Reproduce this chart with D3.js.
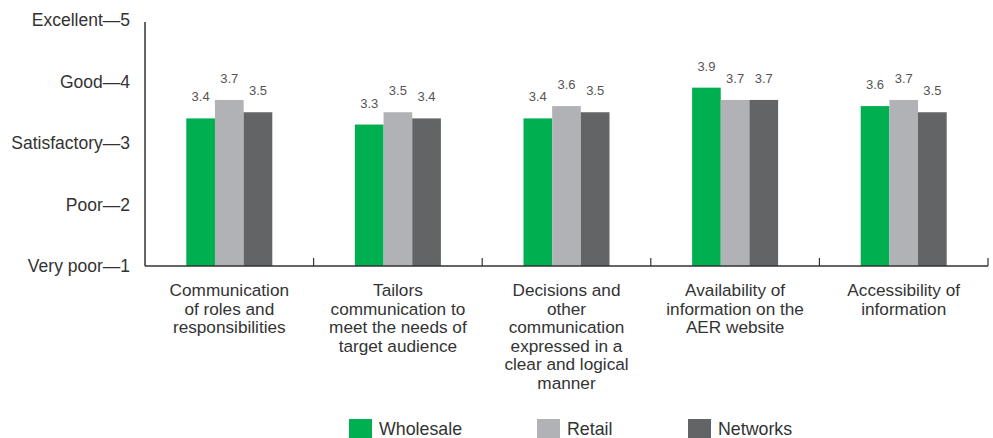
<!DOCTYPE html>
<html>
<head>
<meta charset="utf-8">
<script src="https://cdn.jsdelivr.net/npm/d3@7"></script>
<style>
  html, body { margin: 0; padding: 0; background: #fff; }
  svg { display: block; font-family: "Liberation Sans", Arial, sans-serif; }
</style>
</head>
<body>
<svg id="chart" width="993" height="438"></svg>
<script>
// Survey categories (each entry is a list of wrapped label lines)
const categories = [
  ["Communication", "of roles and", "responsibilities"],
  ["Tailors", "communication to", "meet the needs of", "target audience"],
  ["Decisions and", "other", "communication", "expressed in a", "clear and logical", "manner"],
  ["Availability of", "information on the", "AER website"],
  ["Accessibility of", "information"]
];
const seriesNames = ["Wholesale", "Retail", "Networks"];
const wholesale = [3.4, 3.3, 3.4, 3.9, 3.6];
const retail    = [3.7, 3.5, 3.6, 3.7, 3.7];
const networks  = [3.5, 3.4, 3.5, 3.7, 3.5];
const ratingTicks = [1, 2, 3, 4, 5];
const ratingLabels = ["Very poor", "Poor", "Satisfactory", "Good", "Excellent"];
const colors = ["#00b050", "#b1b2b6", "#636466"];

const seriesValues = [wholesale, retail, networks];
const svg = d3.select("#chart");

const plotLeft = 145, plotRight = 988, plotTop = 20, plotBottom = 266;

const x0 = d3.scaleBand()
  .domain(d3.range(categories.length))
  .range([plotLeft, plotRight])
  .paddingInner(0)
  .paddingOuter(0);

const groupWidth = 86;
const x1 = d3.scaleBand()
  .domain(seriesNames)
  .range([0, groupWidth]);

const y = d3.scaleLinear().domain([1, 5]).range([plotBottom, plotTop]);

// Bars
const groups = svg.append("g").selectAll("g")
  .data(categories)
  .join("g")
  .attr("transform", (d, i) => `translate(${x0(i) + x0.bandwidth() / 2 - groupWidth / 2},0)`);

groups.selectAll("rect")
  .data((d, i) => seriesNames.map((s, k) => ({ s, k, v: seriesValues[k][i] })))
  .join("rect")
  .attr("x", d => x1(d.s))
  .attr("width", x1.bandwidth())
  .attr("y", d => y(d.v))
  .attr("height", d => y(1) - y(d.v))
  .attr("fill", d => colors[d.k]);

// Value labels
groups.selectAll("text.val")
  .data((d, i) => seriesNames.map((s, k) => ({ s, k, v: seriesValues[k][i] })))
  .join("text")
  .attr("class", "val")
  .attr("x", d => x1(d.s) + x1.bandwidth() / 2)
  .attr("y", d => y(d.v) - 17)
  .attr("text-anchor", "middle")
  .attr("font-size", 13)
  .attr("fill", "#555")
  .text(d => d.v.toFixed(1));

// Y axis
const yAxis = d3.axisLeft(y)
  .tickValues(ratingTicks)
  .tickSize(0)
  .tickPadding(15)
  .tickFormat(d => `${ratingLabels[d - 1]}\u2014${d}`);

const yg = svg.append("g").attr("transform", `translate(${plotLeft},0)`).call(yAxis);
yg.select(".domain").attr("stroke", "#333").attr("stroke-width", 1.5).attr("d", `M0,${plotTop + 2}V${plotBottom}`);
yg.selectAll("text")
  .attr("font-size", 17.5)
  .attr("fill", "#333")
  .attr("font-family", "Liberation Sans, Arial, sans-serif");

// X axis with boundary ticks pointing upward
const xg = svg.append("g").attr("transform", `translate(0,${plotBottom})`);
xg.append("path")
  .attr("d", `M${plotLeft},0H${plotRight}`)
  .attr("stroke", "#333")
  .attr("stroke-width", 1.5);
xg.selectAll("line.tick")
  .data(d3.range(1, categories.length + 1))
  .join("line")
  .attr("class", "tick")
  .attr("x1", i => x0(0) + i * x0.step())
  .attr("x2", i => x0(0) + i * x0.step())
  .attr("y1", 0)
  .attr("y2", -8)
  .attr("stroke", "#333")
  .attr("stroke-width", 1.2);

// Category labels
const catLabels = svg.append("g").selectAll("text")
  .data(categories)
  .join("text")
  .attr("x", (d, i) => x0(i) + x0.bandwidth() / 2)
  .attr("y", 296)
  .attr("text-anchor", "middle")
  .attr("font-size", 17.2)
  .attr("fill", "#333");
catLabels.selectAll("tspan")
  .data(d => d)
  .join("tspan")
  .attr("x", function () { return d3.select(this.parentNode).attr("x"); })
  .attr("dy", (d, j) => j === 0 ? 0 : 18.5)
  .text(d => d);

// Legend
const legendX = [349, 537, 688];
const legend = svg.append("g").selectAll("g")
  .data(seriesNames)
  .join("g")
  .attr("transform", (d, i) => `translate(${legendX[i]},419)`);
legend.append("rect")
  .attr("width", 23)
  .attr("height", 19)
  .attr("fill", (d, i) => colors[i]);
legend.append("text")
  .attr("x", 30)
  .attr("y", 16)
  .attr("font-size", 17.8)
  .attr("fill", "#333")
  .text(d => d);
</script>
</body>
</html>
